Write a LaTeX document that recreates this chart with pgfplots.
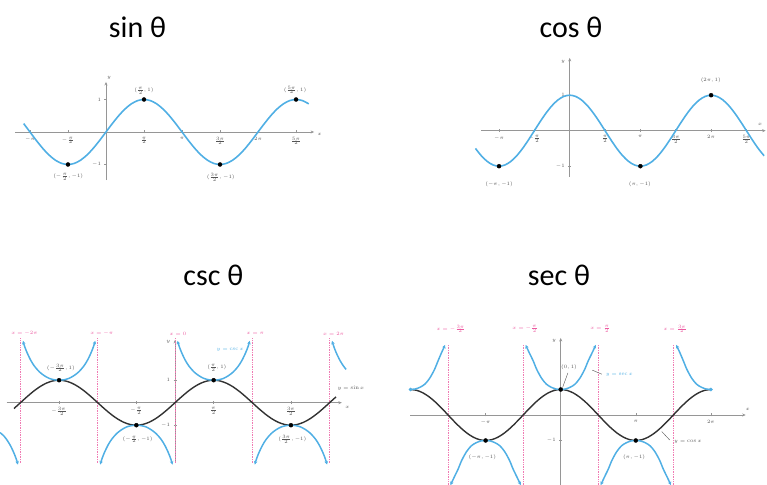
\documentclass[border=0pt]{standalone}
\usepackage{fontspec}
\usepackage{pgfplots}
\pgfplotsset{compat=1.18}
\usepackage{pgfplotstable}
\usetikzlibrary{arrows.meta}
\newfontfamily\titlefont{Carlito}

\definecolor{curveblue}{RGB}{80,175,228}
\definecolor{curvedark}{RGB}{50,50,50}
\definecolor{asym}{RGB}{236,90,160}
\definecolor{axisgray}{RGB}{150,150,150}
\definecolor{lblgray}{RGB}{85,85,85}
\newcommand\lbl{\fontsize{5.5}{6.5}\selectfont}
\newcommand\ttl{\titlefont\fontsize{30}{32}\selectfont}

% x, sin x, cos x at steps of pi/12
\pgfplotstableread{
x s c
-6.545 -0.2588 0.9659
-6.283 0 1
-6.021 0.2588 0.9659
-5.760 0.5 0.8660
-5.498 0.7071 0.7071
-5.236 0.8660 0.5
-4.974 0.9659 0.2588
-4.712 1 0
-4.451 0.9659 -0.2588
-4.189 0.8660 -0.5
-3.927 0.7071 -0.7071
-3.665 0.5 -0.8660
-3.403 0.2588 -0.9659
-3.142 0 -1
-2.880 -0.2588 -0.9659
-2.618 -0.5 -0.8660
-2.356 -0.7071 -0.7071
-2.094 -0.8660 -0.5
-1.833 -0.9659 -0.2588
-1.571 -1 0
-1.309 -0.9659 0.2588
-1.047 -0.8660 0.5
-0.785 -0.7071 0.7071
-0.524 -0.5 0.8660
-0.262 -0.2588 0.9659
0 0 1
0.262 0.2588 0.9659
0.524 0.5 0.8660
0.785 0.7071 0.7071
1.047 0.8660 0.5
1.309 0.9659 0.2588
1.571 1 0
1.833 0.9659 -0.2588
2.094 0.8660 -0.5
2.356 0.7071 -0.7071
2.618 0.5 -0.8660
2.880 0.2588 -0.9659
3.142 0 -1
3.403 -0.2588 -0.9659
3.665 -0.5 -0.8660
3.927 -0.7071 -0.7071
4.189 -0.8660 -0.5
4.451 -0.9659 -0.2588
4.712 -1 0
4.974 -0.9659 0.2588
5.236 -0.8660 0.5
5.498 -0.7071 0.7071
5.760 -0.5 0.8660
6.021 -0.2588 0.9659
6.283 0 1
6.545 0.2588 0.9659
6.807 0.5 0.8660
7.069 0.7071 0.7071
7.330 0.8660 0.5
7.592 0.9659 0.2588
7.854 1 0
8.116 0.9659 -0.2588
8.378 0.8660 -0.5
8.639 0.7071 -0.7071
}\trigtab

\pgfplotsset{
  trig/.style={
    axis lines=middle, enlargelimits=false, clip=false,
    anchor=south west,
    axis line style={axisgray, line width=0.8pt, -{Stealth[length=3.5pt,width=3pt]}},
    tick style={axisgray, line width=0.5pt},
    major tick length=3pt,
    tick label style={font=\lbl, text=lblgray},
    ytick={-1,1},
  },
  dot/.style={only marks, mark=*, mark size=2pt, black},
  branch/.style={curveblue, line width=1.5pt, smooth, {Stealth[length=3.5pt,width=3.5pt]}-{Stealth[length=3.5pt,width=3.5pt]}},
  asymline/.style={asym!80, densely dotted, line width=0.7pt},
}
\tikzset{
  ptlbl/.style={font=\lbl, text=lblgray},
  aslbl/.style={font=\lbl, text=asym},
  bllbl/.style={font=\lbl, text=curveblue},
}

\begin{document}
\begin{tikzpicture}
\useasboundingbox (0pt,0pt) rectangle (767pt,484pt);

% titles
\node[font=\ttl] at (137.5pt,456.3pt) {sin θ};
\node[font=\ttl] at (571pt,456.3pt) {cos θ};
\node[font=\ttl] at (213.3pt,208.3pt) {csc θ};
\node[font=\ttl] at (559pt,208.3pt) {sec θ};

% ---- sin ----
\begin{axis}[trig, at={(15.0pt,303.9pt)}, x=24.2pt, y=32.5pt,
  xmin=-3.76, xmax=8.6, ymin=-1.48, ymax=1.54,
  xtick={-3.1416,-1.5708,1.5708,3.1416,4.7124,6.2832,7.8540},
  xticklabels={$-\pi$,$-\frac{\pi}{2}$,$\frac{\pi}{2}$,$\pi$,$\frac{3\pi}{2}$,$2\pi$,$\frac{5\pi}{2}$}]
\addplot[curveblue, line width=1.6pt, smooth, restrict x to domain=-3.41:8.4] table[x=x, y=s] {\trigtab};
\addplot[dot] coordinates {(-1.5708,-1) (1.5708,1) (4.7124,-1) (7.854,1)};
\node[ptlbl] at (axis cs:1.57,1.26) {$(\frac{\pi}{2},1)$};
\node[ptlbl] at (axis cs:7.81,1.29) {$(\frac{5\pi}{2},1)$};
\node[ptlbl] at (axis cs:-1.56,-1.39) {$(-\frac{\pi}{2},-1)$};
\node[ptlbl] at (axis cs:4.74,-1.39) {$(\frac{3\pi}{2},-1)$};
\node[ptlbl, anchor=west] at (axis cs:8.6,-0.08) {$x$};
\node[ptlbl, anchor=south west] at (axis cs:-0.1,1.5) {$y$};
\end{axis}

% ---- cos ----
\begin{axis}[trig, at={(481.05pt,307.15pt)}, x=22.5pt, y=35.5pt,
  xmin=-3.94, xmax=8.71, ymin=-1.3, ymax=2.05,
  xtick={-3.1416,-1.5708,1.5708,3.1416,4.7124,6.2832,7.8540},
  xticklabels={$-\pi$,$-\frac{\pi}{2}$,$\frac{\pi}{2}$,$\pi$,$\frac{3\pi}{2}$,$2\pi$,$\frac{5\pi}{2}$}]
\addplot[curveblue, line width=1.6pt, smooth, restrict x to domain=-4.2:8.65] table[x=x, y=c] {\trigtab};
\addplot[dot] coordinates {(-3.1416,-1) (3.1416,-1) (6.2832,1)};
\node[ptlbl] at (axis cs:6.27,1.43) {$(2\pi,1)$};
\node[ptlbl] at (axis cs:-3.14,-1.5) {$(-\pi,-1)$};
\node[ptlbl] at (axis cs:3.12,-1.5) {$(\pi,-1)$};
\node[ptlbl, anchor=south east] at (axis cs:8.71,0.05) {$x$};
\node[ptlbl, anchor=east] at (axis cs:-0.05,1.95) {$y$};
\end{axis}

% ---- csc ----
\begin{axis}[trig, at={(6.74pt,21.0pt)}, x=24.6pt, y=22.5pt,
  xmin=-6.84, xmax=6.78, ymin=-2.68, ymax=2.79,
  xtick={-4.7124,-1.5708,1.5708,4.7124},
  xticklabels={$-\frac{3\pi}{2}$,$-\frac{\pi}{2}$,$\frac{\pi}{2}$,$\frac{3\pi}{2}$}]
\addplot[asymline] coordinates {(-6.2832,2.86) (-6.2832,-2.7)};
\addplot[asymline] coordinates {(-3.1416,2.86) (-3.1416,-2.7)};
\addplot[asymline] coordinates {(0,2.86) (0,-2.7)};
\addplot[asymline] coordinates {(3.1416,2.86) (3.1416,-2.7)};
\addplot[asymline] coordinates {(6.2832,2.86) (6.2832,-2.7)};
\addplot[curvedark, line width=1.4pt, smooth, restrict x to domain=-6.55:6.6] table[x=x, y=s] {\trigtab};
\addplot[branch] coordinates {(-6.182,2.75) (-6.112,2.5) (-6.012,2.22) (-5.862,1.88) (-5.712,1.62) (-5.512,1.37) (-5.312,1.2) (-5.112,1.08) (-4.912,1.02) (-4.712,1) (-4.512,1.02) (-4.312,1.08) (-4.112,1.2) (-3.912,1.37) (-3.712,1.62) (-3.562,1.88) (-3.412,2.22) (-3.312,2.5) (-3.242,2.75)};
\addplot[branch] coordinates {(-3.041,-2.75) (-2.971,-2.5) (-2.871,-2.22) (-2.721,-1.88) (-2.571,-1.62) (-2.371,-1.37) (-2.171,-1.2) (-1.971,-1.08) (-1.771,-1.02) (-1.571,-1) (-1.371,-1.02) (-1.171,-1.08) (-0.971,-1.2) (-0.771,-1.37) (-0.571,-1.62) (-0.421,-1.88) (-0.271,-2.22) (-0.171,-2.5) (-0.101,-2.75)};
\addplot[branch] coordinates {(0.101,2.75) (0.171,2.5) (0.271,2.22) (0.421,1.88) (0.571,1.62) (0.771,1.37) (0.971,1.2) (1.171,1.08) (1.371,1.02) (1.571,1) (1.771,1.02) (1.971,1.08) (2.171,1.2) (2.371,1.37) (2.571,1.62) (2.721,1.88) (2.871,2.22) (2.971,2.5) (3.041,2.75)};
\addplot[branch] coordinates {(3.242,-2.75) (3.312,-2.5) (3.412,-2.22) (3.562,-1.88) (3.712,-1.62) (3.912,-1.37) (4.112,-1.2) (4.312,-1.08) (4.512,-1.02) (4.712,-1) (4.912,-1.02) (5.112,-1.08) (5.312,-1.2) (5.512,-1.37) (5.712,-1.62) (5.862,-1.88) (6.012,-2.22) (6.112,-2.5) (6.182,-2.75)};
\addplot[branch, -{Stealth[length=3.5pt,width=3.5pt]}] coordinates {(-7.11,-1.33) (-6.954,-1.48) (-6.854,-1.62) (-6.704,-1.88) (-6.554,-2.22) (-6.454,-2.5) (-6.384,-2.75)};
\addplot[branch, {Stealth[length=3.5pt,width=3.5pt]}-] coordinates {(6.384,2.75) (6.454,2.5) (6.554,2.22) (6.704,1.88) (6.854,1.62) (6.954,1.48)};
\addplot[dot] coordinates {(-4.7124,1) (-1.5708,-1) (1.5708,1) (4.7124,-1)};
\node[ptlbl] at (axis cs:-4.64,1.55) {$(-\frac{3\pi}{2},1)$};
\node[ptlbl] at (axis cs:1.70,1.55) {$(\frac{\pi}{2},1)$};
\node[ptlbl] at (axis cs:-1.52,-1.63) {$(-\frac{\pi}{2},-1)$};
\node[ptlbl] at (axis cs:4.77,-1.63) {$(\frac{3\pi}{2},-1)$};
\node[bllbl] at (axis cs:2.24,2.34) {$y=\csc x$};
\node[ptlbl] at (axis cs:7.15,0.64) {$y=\sin x$};
\node[aslbl, xshift=4pt] at (axis cs:-6.2832,3.08) {$x=-2\pi$};
\node[aslbl, xshift=4pt] at (axis cs:-3.1416,3.08) {$x=-\pi$};
\node[aslbl, xshift=3pt] at (axis cs:0,3.08) {$x=0$};
\node[aslbl, xshift=3pt] at (axis cs:3.1416,3.08) {$x=\pi$};
\node[aslbl, xshift=4pt] at (axis cs:6.2832,3.08) {$x=2\pi$};
\node[ptlbl, anchor=west] at (axis cs:6.78,-0.2) {$x$};
\node[ptlbl, anchor=east] at (axis cs:-0.05,2.7) {$y$};
\end{axis}

% ---- sec ----
\begin{axis}[trig, at={(410.13pt,-2.4pt)}, x=23.9pt, y=25.5pt,
  xmin=-6.3, xmax=7.74, ymin=-2.8, ymax=3.02,
  xtick={-3.1416,3.1416,6.2832},
  xticklabels={$-\pi$,$\pi$,$2\pi$}]
\addplot[asymline] coordinates {(-4.7124,2.75) (-4.7124,-2.9)};
\addplot[asymline] coordinates {(-1.5708,2.75) (-1.5708,-2.9)};
\addplot[asymline] coordinates {(1.5708,2.75) (1.5708,-2.9)};
\addplot[asymline] coordinates {(4.7124,2.75) (4.7124,-2.9)};
\addplot[curvedark, line width=1.4pt, smooth, restrict x to domain=-6.29:6.29] table[x=x, y=c] {\trigtab};
\addplot[branch, -{Stealth[length=3.5pt,width=3.5pt]}] coordinates {(-6.283,1) (-6.083,1.02) (-5.883,1.09) (-5.683,1.21) (-5.483,1.44) (-5.283,1.78) (-5.133,2.12) (-4.983,2.45) (-4.833,2.75)};
\addplot[branch] coordinates {(-1.47,2.75) (-1.32,2.45) (-1.15,2.12) (-1.0,1.78) (-0.8,1.44) (-0.6,1.21) (-0.4,1.09) (-0.2,1.02) (0,1) (0.2,1.02) (0.4,1.09) (0.6,1.21) (0.8,1.44) (1.0,1.78) (1.15,2.12) (1.32,2.45) (1.47,2.75)};
\addplot[branch, {Stealth[length=3.5pt,width=3.5pt]}-] coordinates {(4.833,2.75) (4.983,2.45) (5.133,2.12) (5.283,1.78) (5.483,1.44) (5.683,1.21) (5.883,1.09) (6.083,1.02) (6.283,1)};
\addplot[branch] coordinates {(-4.612,-2.75) (-4.462,-2.45) (-4.292,-2.12) (-4.142,-1.78) (-3.942,-1.44) (-3.742,-1.21) (-3.542,-1.09) (-3.342,-1.02) (-3.142,-1) (-2.942,-1.02) (-2.742,-1.09) (-2.542,-1.21) (-2.342,-1.44) (-2.142,-1.78) (-1.992,-2.12) (-1.822,-2.45) (-1.672,-2.75)};
\addplot[branch] coordinates {(1.672,-2.75) (1.822,-2.45) (1.992,-2.12) (2.142,-1.78) (2.342,-1.44) (2.542,-1.21) (2.742,-1.09) (2.942,-1.02) (3.142,-1) (3.342,-1.02) (3.542,-1.09) (3.742,-1.21) (3.942,-1.44) (4.142,-1.78) (4.292,-2.12) (4.462,-2.45) (4.612,-2.75)};
\addplot[only marks, mark=*, mark size=1.6pt, curveblue] coordinates {(-6.283,1) (6.283,1)};
\addplot[dot] coordinates {(0,1) (-3.1416,-1) (3.1416,-1)};
\draw[lblgray, line width=0.4pt] (axis cs:0.08,1.08) -- (axis cs:0.3,1.65);
\node[ptlbl] at (axis cs:0.35,1.87) {$(0,1)$};
\draw[lblgray, line width=0.4pt] (axis cs:1.32,1.76) -- (axis cs:1.72,1.6);
\node[bllbl, anchor=west] at (axis cs:1.74,1.57) {$y=\sec x$};
\draw[lblgray, line width=0.4pt] (axis cs:4.23,-0.65) -- (axis cs:4.56,-0.98);
\node[ptlbl, anchor=west] at (axis cs:4.6,-1.05) {$y=\cos x$};
\node[ptlbl] at (axis cs:-3.28,-1.64) {$(-\pi,-1)$};
\node[ptlbl] at (axis cs:3.07,-1.64) {$(\pi,-1)$};
\node[aslbl, xshift=3pt] at (axis cs:-4.7124,3.38) {$x=-\frac{3\pi}{2}$};
\node[aslbl, xshift=2pt] at (axis cs:-1.5708,3.38) {$x=-\frac{\pi}{2}$};
\node[aslbl, xshift=2pt] at (axis cs:1.5708,3.38) {$x=\frac{\pi}{2}$};
\node[aslbl, xshift=2pt] at (axis cs:4.7124,3.38) {$x=\frac{3\pi}{2}$};
\node[ptlbl, anchor=south west] at (axis cs:7.6,0.05) {$x$};
\node[ptlbl, anchor=east] at (axis cs:-0.05,2.9) {$y$};
\end{axis}
\end{tikzpicture}
\end{document}
